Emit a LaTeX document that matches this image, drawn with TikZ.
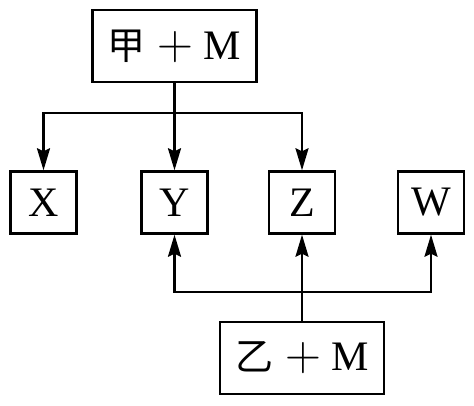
\documentclass[tikz,border=0pt]{standalone}
\usepackage{fontspec}
\setmainfont{Liberation Serif}
\newfontfamily\cjk{Noto Sans CJK SC}
\usetikzlibrary{arrows.meta}

\newcommand{\bigplus}{{\fontsize{24}{26}\selectfont$+$}}

\tikzset{
	box/.style={draw, line width=1.2pt, inner sep=0pt, minimum width=33pt, minimum height=31pt, font=\fontsize{21}{24}\selectfont},
	bigbox/.style={box, minimum width=82pt, minimum height=36pt},
	conn/.style={line width=1.2pt},
}

\begin{document}
\begin{tikzpicture}[x=0.5pt,y=-0.5pt,>={Stealth[length=11pt,width=6.5pt,inset=1.5pt]}]
	\useasboundingbox (0,0) rectangle (474,405);
	
	% Top and bottom sources
	\node[bigbox] (jia) at (174.5,46) {{\cjk\fontsize{19}{20}\selectfont 甲}\hspace{6pt}\bigplus\hspace{5pt}M};
	\node[bigbox] (yi) at (302,358) {{\cjk\fontsize{19}{20}\selectfont 乙}\hspace{6pt}\bigplus\hspace{5pt}M};
	
	% Products
	\node[box] (X) at (43.5,202.5) {X};
	\node[box] (Y) at (174.5,202.5) {Y};
	\node[box] (Z) at (302,202.5) {Z};
	\node[box] (W) at (431,202.5) {W};
	
	% Branch points
	\coordinate (top) at (174.5,113);
	\coordinate (bot) at (302,292);
	
	% From the top box
	\draw[conn] (jia) -- (top);
	\draw[conn,->] (top) -| (X);
	\draw[conn,->] (top) -- (Y);
	\draw[conn,->] (top) -| (Z);
	
	% From the bottom box
	\draw[conn] (yi) -- (bot);
	\draw[conn,->] (bot) -| (Y);
	\draw[conn,->] (bot) -- (Z);
	\draw[conn,->] (bot) -| (W);
	
\end{tikzpicture}
\end{document}
